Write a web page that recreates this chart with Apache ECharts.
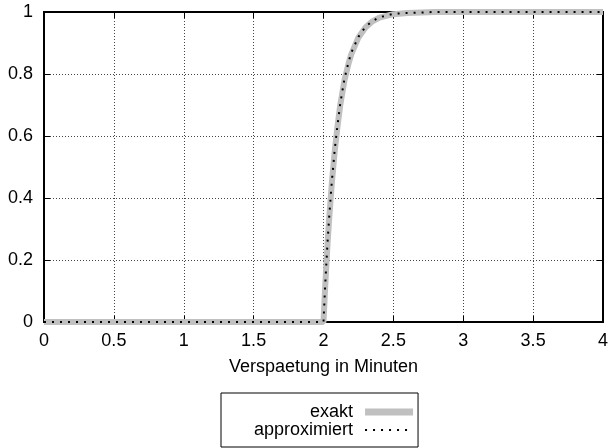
<!DOCTYPE html>
<html><head><meta charset="utf-8">
<script src="https://cdn.jsdelivr.net/npm/echarts@6/dist/echarts.min.js"></script>
<style>html,body{margin:0;padding:0;background:#fff}#c{width:612px;height:448px}</style>
</head><body><div id="c"></div>
<script>
const seriesNames = ['exakt', 'approximiert'];
const exaktData = [[0,0],[2,0],[2.01,0.095],[2.02,0.18],[2.03,0.26],[2.04,0.33],[2.05,0.39],[2.06,0.45],[2.08,0.55],[2.10,0.63],[2.12,0.70],[2.15,0.78],[2.18,0.835],[2.2,0.865],[2.25,0.918],[2.3,0.95],[2.35,0.97],[2.4,0.982],[2.5,0.993],[2.6,0.997],[2.8,1],[3,1],[4,1]];
const approxData = [[0,0],[2,0],[2.01,0.10],[2.02,0.185],[2.03,0.265],[2.04,0.335],[2.05,0.395],[2.06,0.455],[2.08,0.555],[2.10,0.635],[2.12,0.705],[2.15,0.785],[2.18,0.84],[2.2,0.87],[2.25,0.92],[2.3,0.952],[2.35,0.971],[2.4,0.983],[2.5,0.994],[2.6,0.997],[2.8,1],[3,1],[4,1]];
const xTicks = [0,0.5,1,1.5,2,2.5,3,3.5,4];
const yTicks = [0,0.2,0.4,0.6,0.8,1];
const font = 'Liberation Sans';
const chart = echarts.init(document.getElementById('c'));
const tick = () => ({show:true, inside:true, length:6, lineStyle:{color:'#000', width:1}});
const grid = {show:true, type:[1,2], color:'#444', width:1};
const axLine = () => ({show:true, onZero:false, lineStyle:{color:'#000', width:2}});
chart.setOption({
  animation:false,
  textStyle:{fontFamily:font},
  grid:{left:44, right:9, top:12, bottom:126, containLabel:false,
        show:true, borderColor:'#000', borderWidth:2},
  xAxis:[{
    type:'value', min:0, max:4, interval:0.5,
    name:'Verspaetung in Minuten', nameLocation:'middle', nameGap:36,
    nameTextStyle:{fontFamily:font, fontSize:18, color:'#000'},
    axisLine:axLine(), axisTick:tick(),
    axisLabel:{fontFamily:font, fontSize:18, color:'#000', margin:10,
      formatter:v=>xTicks.includes(v)?String(v):''},
    splitLine:{show:true, lineStyle:grid}
  },{
    type:'value', min:0, max:4, interval:0.5, position:'top',
    axisLine:axLine(), axisTick:tick(), axisLabel:{show:false}, splitLine:{show:false}
  }],
  yAxis:[{
    type:'value', min:0, max:1, interval:0.2,
    axisLine:axLine(), axisTick:tick(),
    axisLabel:{fontFamily:font, fontSize:18, color:'#000', margin:11,
      formatter:v=>{const r=Math.round(v*10)/10;return yTicks.includes(r)?String(r):'';}},
    splitLine:{show:true, lineStyle:grid}
  },{
    type:'value', min:0, max:1, interval:0.2, position:'right',
    axisLine:axLine(), axisTick:tick(), axisLabel:{show:false}, splitLine:{show:false}
  }],
  legend:{
    orient:'vertical', left:221, top:393,
    align:'right', itemWidth:48, itemHeight:7, itemGap:0,
    padding:[10,4,8,33],
    borderColor:'#000', borderWidth:1,
    textStyle:{fontFamily:font, fontSize:18, color:'#000', padding:[0,7,0,0]},
    data:[{name:seriesNames[0], icon:'rect', itemStyle:{color:'#c0c0c0'}},
          {name:seriesNames[1], itemStyle:{opacity:0}}]
  },
  series:[{
    name:seriesNames[0], type:'line', data:exaktData, showSymbol:false, symbol:'none',
    lineStyle:{color:'#c0c0c0', width:6}, itemStyle:{color:'#c0c0c0'}, z:2
  },{
    name:seriesNames[1], type:'line', data:approxData, showSymbol:false, symbol:'none',
    lineStyle:{color:'#000', width:2, type:[2,6]}, itemStyle:{color:'#000'}, z:3
  },{
    name:'_frame', type:'line', xAxisIndex:1, yAxisIndex:1, data:[], silent:true
  }]
});
</script></body></html>
